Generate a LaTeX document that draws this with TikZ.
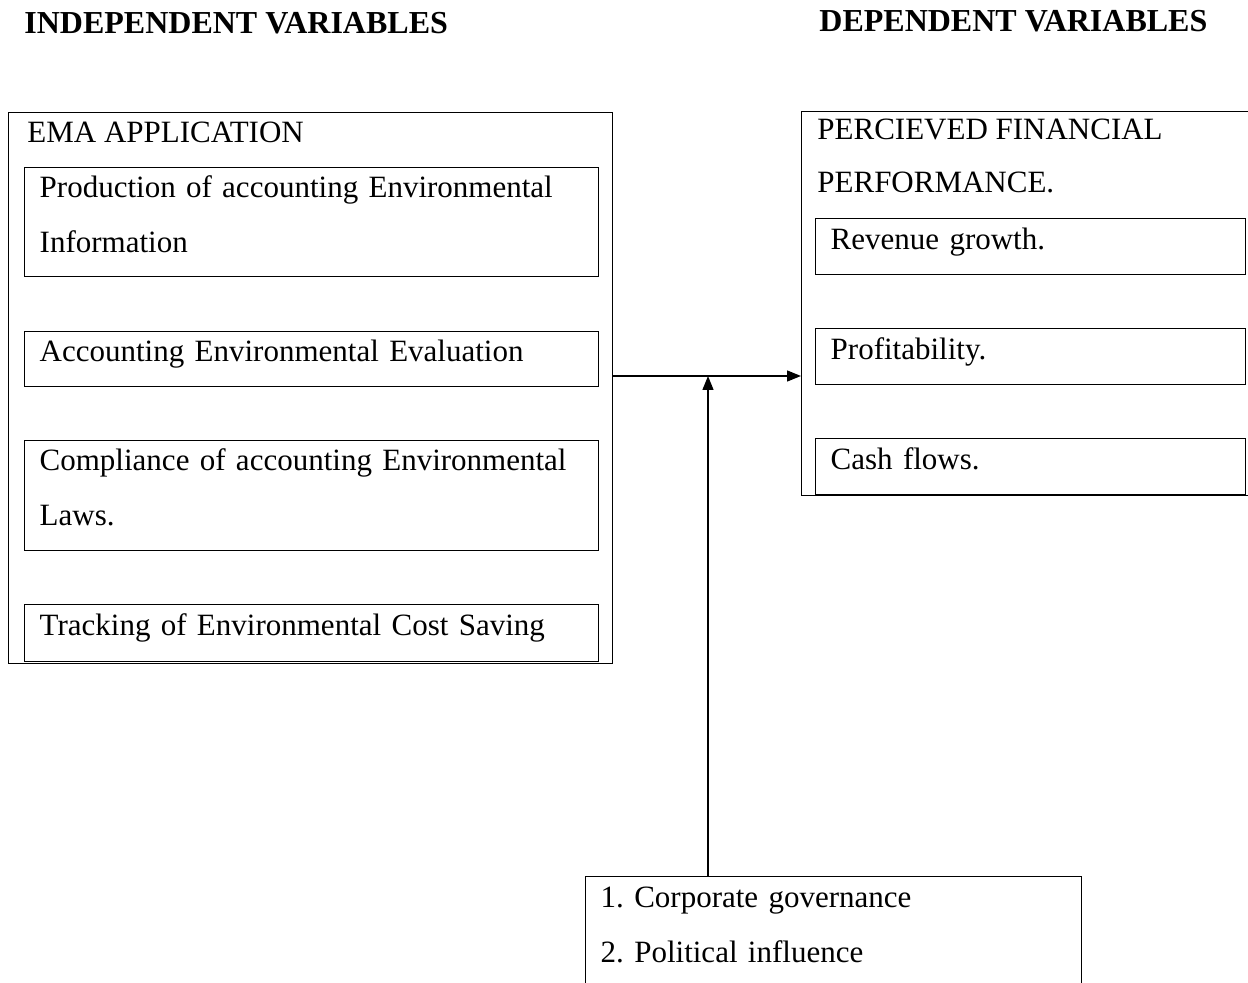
\documentclass[tikz,border=0pt]{standalone}
\usepackage{fontspec}
\setmainfont{Liberation Serif}
\usetikzlibrary{arrows.meta, positioning}
\frenchspacing

\begin{document}
\begin{tikzpicture}[x=0.5pt, y=-0.5pt,
    head/.style={font=\fontsize{16}{18}\selectfont\bfseries, anchor=base west, inner sep=0pt},
    ttl/.style={font=\fontsize{15.5}{18}\selectfont, anchor=base west, inner sep=0pt},
    grp/.style={draw, line width=0.7pt, anchor=north west, inner sep=0pt},
    item/.style={draw, line width=0.7pt, anchor=north west, align=left,
                 inner xsep=7.5pt, inner ysep=0pt, font=\fontsize{15.5}{27.5}\selectfont,
                 execute at begin node=\rule{0pt}{11pt},
                 execute at end node=\rule[-8.5pt]{0pt}{8.5pt}},
    arr/.style={-{Triangle[length=7pt, width=5.5pt]}, line width=0.7pt}]

\useasboundingbox (0,0) rectangle (1248,983);

%% Column headings
\node[head] (indep) at (24,34)  {INDEPENDENT VARIABLES};
\node[head] (dep)   at (819,32) {DEPENDENT VARIABLES};

%% ── Independent variables: EMA application ──────────────────────────
\node[grp, minimum width=302pt, minimum height=275.5pt] (ema) at (8,112) {};
\node[ttl] (emaT) at (27,143) {EMA APPLICATION};

\node[item, text width=272pt, minimum height=54.5pt] (prod) at (24,167)
    {Production of accounting Environmental\\Information};
\node[item, text width=272pt, minimum height=27.5pt] (eval) at (24,331)
    {Accounting Environmental Evaluation};
\node[item, text width=272pt, minimum height=55pt]   (comp) at (24,440)
    {Compliance of accounting Environmental\\Laws.};
\node[item, text width=272pt, minimum height=28.5pt] (track) at (24,604)
    {Tracking of Environmental Cost Saving};

%% ── Dependent variables: financial performance ──────────────────────
\node[grp, minimum width=224.5pt, minimum height=192pt] (pff) at (801,111) {};
\node[ttl] (pffT1) at (817,140) {PERCIEVED FINANCIAL};
\node[ttl] (pffT2) at (817,193) {PERFORMANCE.};

\node[item, text width=200pt, minimum height=28pt] (rev)  at (815,218) {Revenue growth.};
\node[item, text width=200pt, minimum height=28pt] (prof) at (815,328) {Profitability.};
\node[item, text width=200pt, minimum height=28pt] (cash) at (815,438) {Cash flows.};

%% ── Moderating variables ────────────────────────────────────────────
\node[item, text width=233pt, minimum height=56pt] (mod) at (585,876)
    {1. Corporate governance\\2. Political influence};

%% Arrows
\coordinate (hub) at (708,376);
\draw[arr] (ema.east |- hub) -- (pff.west |- hub);
\draw[arr] (mod.north -| hub) -- (hub);

\end{tikzpicture}
\end{document}
